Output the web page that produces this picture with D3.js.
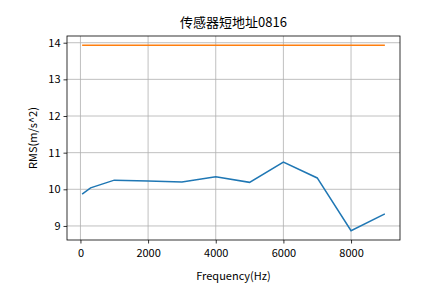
<!DOCTYPE html>
<html>
<head>
<meta charset="utf-8">
<script src="https://cdn.jsdelivr.net/npm/d3@7"></script>
<style>
  body { margin: 0; background: #fff; }
  text { font-family: "Noto Sans CJK SC", "DejaVu Sans", sans-serif; }
</style>
</head>
<body>
<svg id="chart"></svg>
<script>
// chart data
let freqs = [50, 300, 1000, 2000, 3000, 4000, 5000, 6000, 7000, 8000, 9000];
let rmsValues = [9.87, 10.04, 10.25, 10.23, 10.2, 10.34, 10.19, 10.74, 10.31, 8.87, 9.33];
let limitValues = [13.93, 13.93, 13.93, 13.93, 13.93, 13.93, 13.93, 13.93, 13.93, 13.93, 13.93];
let xTicks = [0, 2000, 4000, 6000, 8000];
let yTicks = [9, 10, 11, 12, 13, 14];

let width = 444;
let height = 301;
let plotLeft = 67, plotRight = 400, plotTop = 36, plotBottom = 240;

let svg = d3.select("#chart").attr("width", width).attr("height", height);

// matplotlib-like 5% margins
let xMin = d3.min(freqs), xMax = d3.max(freqs);
let xPad = (xMax - xMin) * 0.05;
let allY = rmsValues.concat(limitValues);
let yMin = d3.min(allY), yMax = d3.max(allY);
let yPad = (yMax - yMin) * 0.05;

let xScale = d3.scaleLinear().domain([xMin - xPad, xMax + xPad]).range([plotLeft, plotRight]);
let yScale = d3.scaleLinear().domain([yMin - yPad, yMax + yPad]).range([plotBottom, plotTop]);

// grid
svg.append("g")
   .selectAll("line")
   .data(xTicks)
   .enter()
   .append("line")
   .attr("x1", d => xScale(d)).attr("x2", d => xScale(d))
   .attr("y1", plotTop).attr("y2", plotBottom)
   .attr("stroke", "#b0b0b0").attr("stroke-width", 0.8);

svg.append("g")
   .selectAll("line")
   .data(yTicks)
   .enter()
   .append("line")
   .attr("x1", plotLeft).attr("x2", plotRight)
   .attr("y1", d => yScale(d)).attr("y2", d => yScale(d))
   .attr("stroke", "#b0b0b0").attr("stroke-width", 0.8);

// lines
let line = d3.line().x(d => xScale(d[0])).y(d => yScale(d[1]));

svg.append("path")
   .datum(freqs.map((f, i) => [f, rmsValues[i]]))
   .attr("d", line)
   .attr("fill", "none")
   .attr("stroke", "#1f77b4")
   .attr("stroke-width", 1.5);

svg.append("path")
   .datum(freqs.map((f, i) => [f, limitValues[i]]))
   .attr("d", line)
   .attr("fill", "none")
   .attr("stroke", "#ff7f0e")
   .attr("stroke-width", 1.5);

// axes
let xAxis = d3.axisBottom(xScale).tickValues(xTicks).tickSize(3.5).tickPadding(6).tickFormat(d3.format("d"));
let yAxis = d3.axisLeft(yScale).tickValues(yTicks).tickSize(3.5).tickPadding(3).tickFormat(d3.format("d"));

let gx = svg.append("g").attr("transform", `translate(0, ${plotBottom})`).call(xAxis);
let gy = svg.append("g").attr("transform", `translate(${plotLeft}, 0)`).call(yAxis);

[gx, gy].forEach(g => {
  g.select(".domain").remove();
  g.selectAll("line").attr("stroke", "#000").attr("stroke-width", 0.8);
  g.selectAll("text").attr("fill", "#000").style("font-size", "11px");
});

// frame
svg.append("rect")
   .attr("x", plotLeft).attr("y", plotTop)
   .attr("width", plotRight - plotLeft).attr("height", plotBottom - plotTop)
   .attr("fill", "none").attr("stroke", "#000").attr("stroke-width", 0.8);

// labels
svg.append("text")
   .attr("x", (plotLeft + plotRight) / 2).attr("y", 27)
   .attr("text-anchor", "middle")
   .style("font-size", "13px")
   .text("传感器短地址0816");

svg.append("text")
   .attr("x", (plotLeft + plotRight) / 2).attr("y", 280)
   .attr("text-anchor", "middle")
   .style("font-size", "11px")
   .text("Frequency(Hz)");

svg.append("text")
   .attr("transform", `translate(37, ${(plotTop + plotBottom) / 2}) rotate(-90)`)
   .attr("text-anchor", "middle")
   .style("font-size", "11px")
   .text("RMS(m/s^2)");
</script>
</body>
</html>
